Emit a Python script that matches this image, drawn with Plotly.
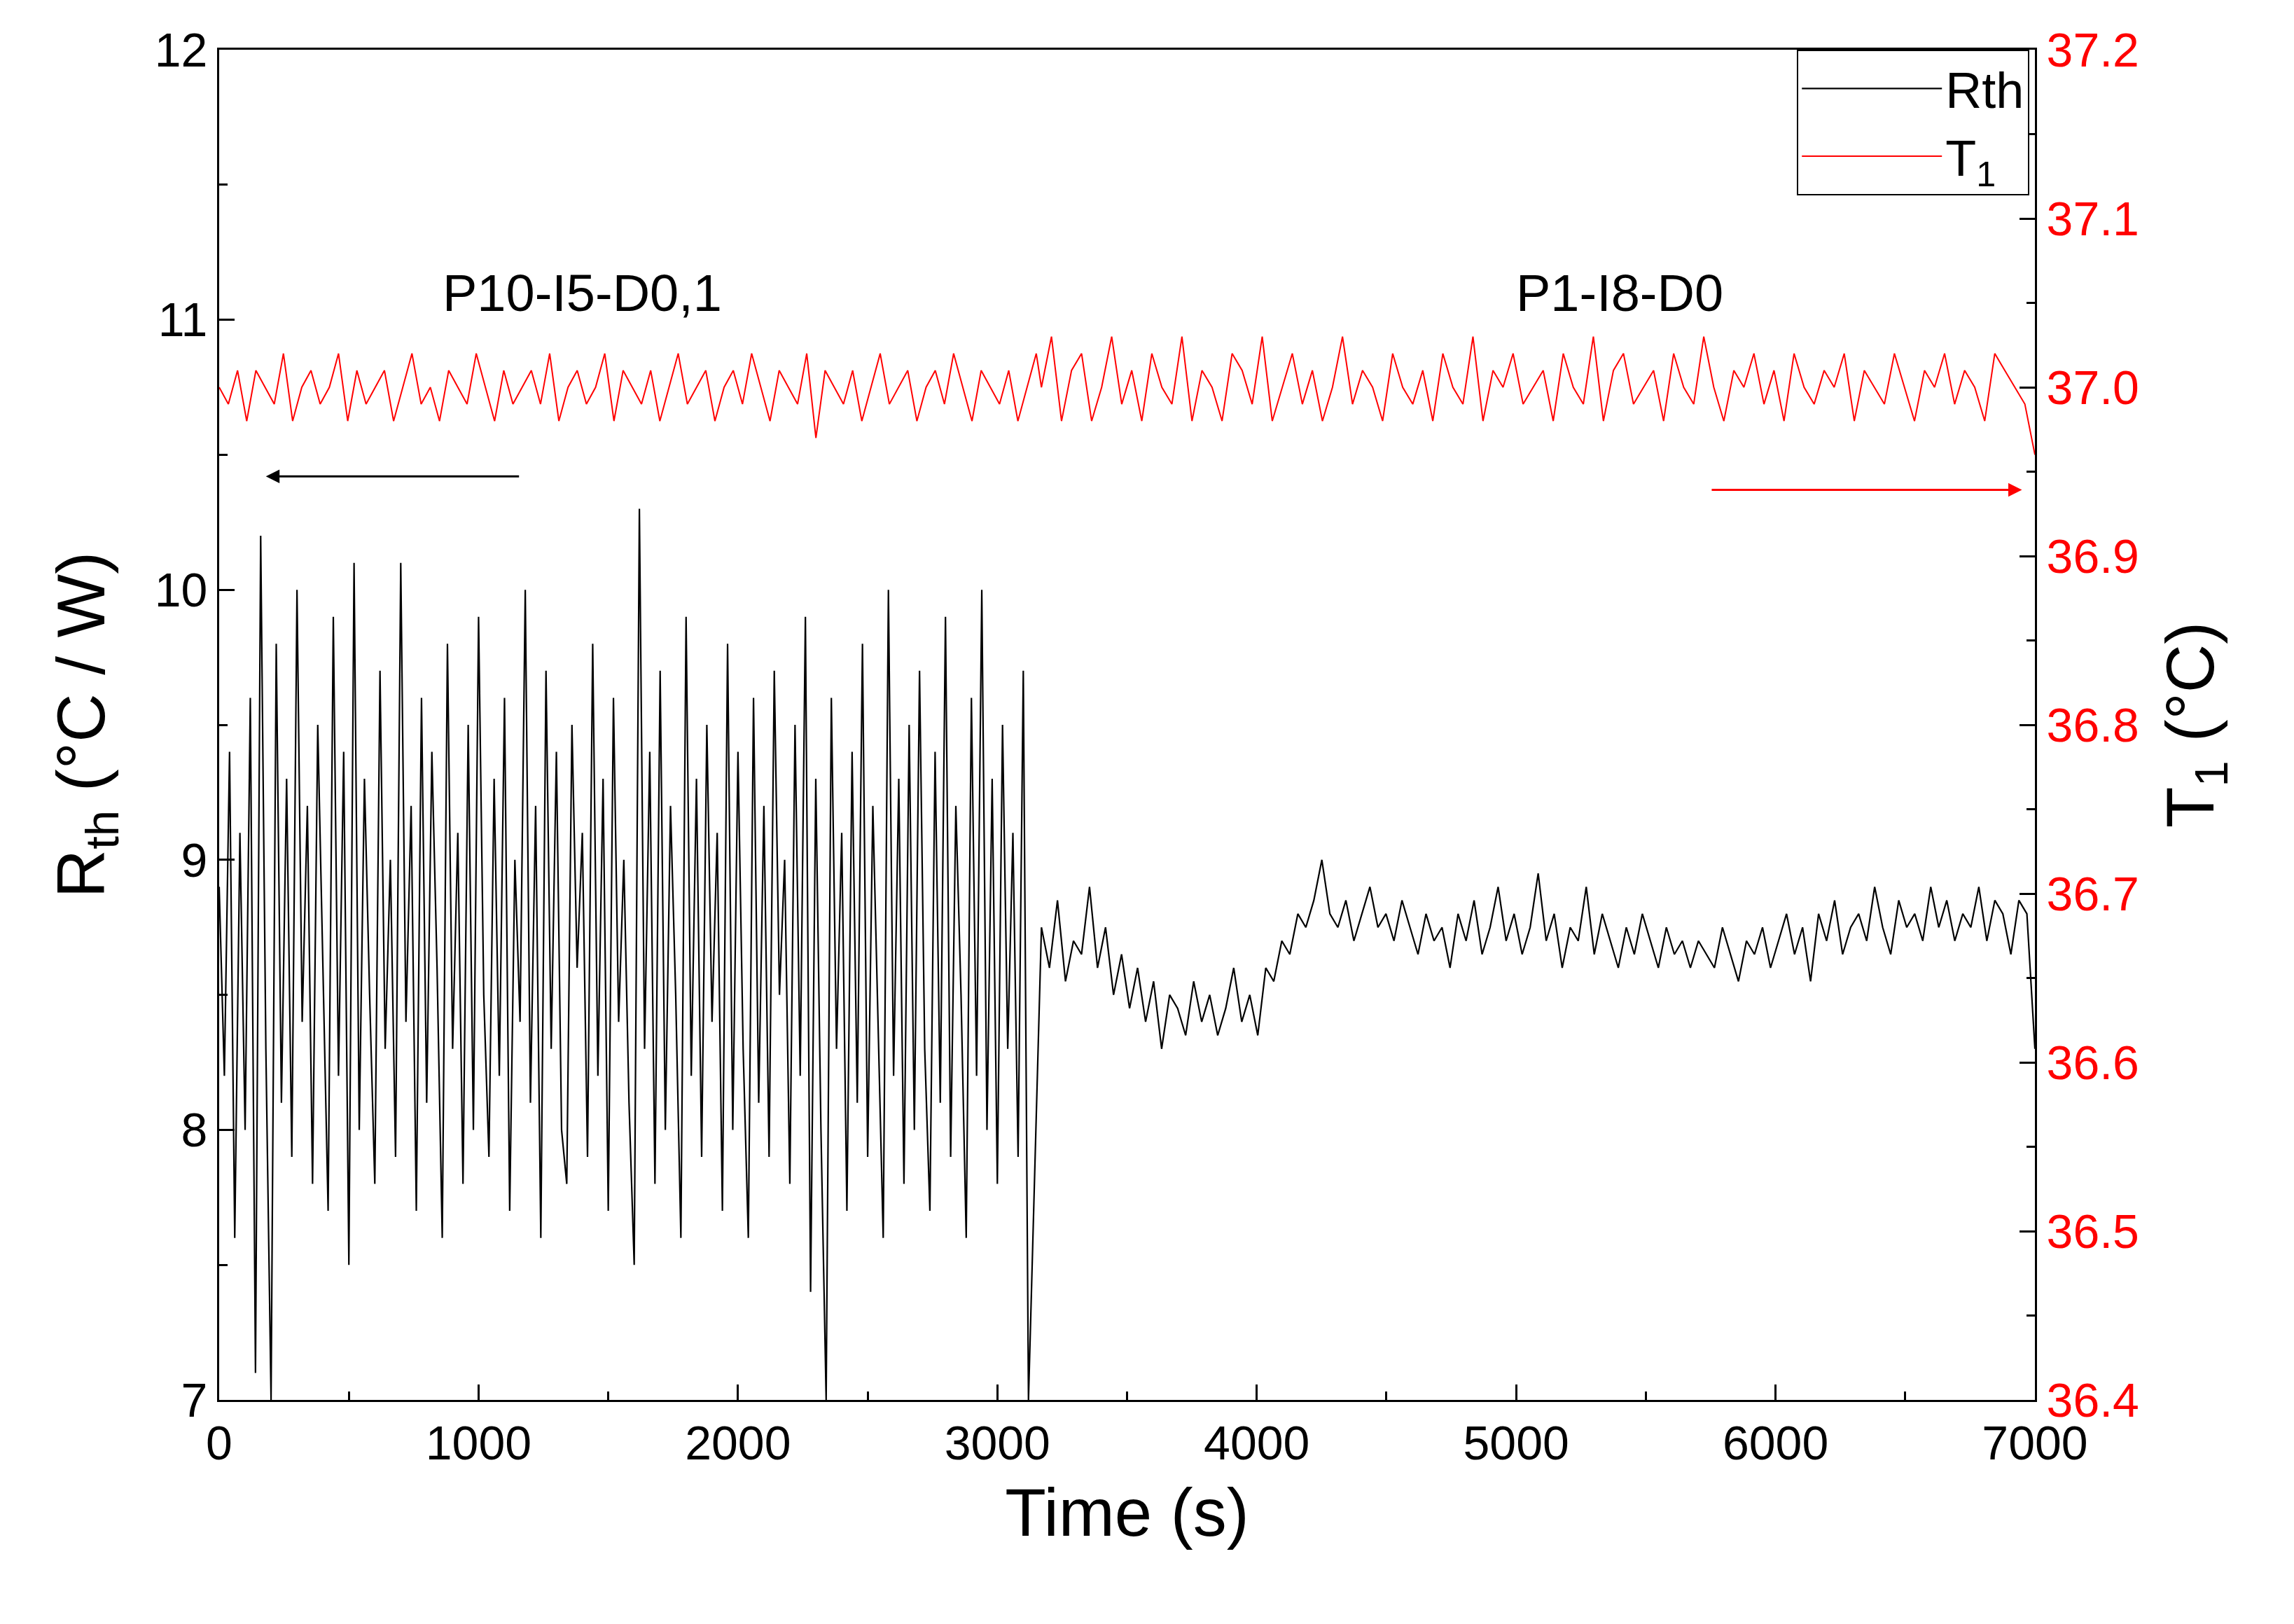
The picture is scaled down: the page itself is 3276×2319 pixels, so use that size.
import numpy as np
import plotly.graph_objects as go

# Rth, noisy regime (P10-I5-D0,1), sampled every 20 s from 0 s
rth_noisy = [8.9,8.2,9.4,7.6,9.1,8.0,9.6,7.1,10.2,8.3,7.0,9.8,8.1,9.3,7.9,10.0,8.4,9.2,7.8,9.5,8.6,7.7,9.9,8.2,9.4,7.5,10.1,8.0,9.3,8.5,
7.8,9.7,8.3,9.0,7.9,10.1,8.4,9.2,7.7,9.6,8.1,9.4,8.6,7.6,9.8,8.3,9.1,7.8,9.5,8.0,9.9,8.5,7.9,9.3,8.2,9.6,7.7,9.0,8.4,10.0,
8.1,9.2,7.6,9.7,8.3,9.4,8.0,7.8,9.5,8.6,9.1,7.9,9.8,8.2,9.3,7.7,9.6,8.4,9.0,8.1,7.5,10.3,8.3,9.4,7.8,9.7,8.0,9.2,8.5,7.6,
9.9,8.2,9.3,7.9,9.5,8.4,9.1,7.7,9.8,8.0,9.4,8.3,7.6,9.6,8.1,9.2,7.9,9.7,8.5,9.0,7.8,9.5,8.2,9.9,7.4,9.3,8.0,7.0,9.6,8.3,
9.1,7.7,9.4,8.1,9.8,7.9,9.2,8.4,7.6,10.0,8.2,9.3,7.8,9.5,8.0,9.7,8.3,7.7,9.4,8.1,9.9,7.9,9.2,8.5,7.6,9.6,8.2,10.0,8.0,9.3,
7.8,9.5,8.3,9.1,7.9,9.7,7.0]
step_noisy = 20

# Rth, smooth regime (P1-I8-D0), from 3170 s to 7000 s
rth_smooth = [8.75,8.6,8.85,8.55,8.7,8.65,8.9,8.6,8.75,8.5,8.65,8.45,8.6,8.4,8.55,8.3,8.5,8.45,8.35,8.55,8.4,8.5,8.35,8.45,8.6,8.4,8.5,8.35,
8.6,8.55,8.7,8.65,8.8,8.75,8.85,9.0,8.8,8.75,8.85,8.7,8.8,8.9,8.75,8.8,8.7,8.85,8.75,8.65,8.8,8.7,8.75,8.6,8.8,8.7,8.85,8.65,8.75,8.9,
8.7,8.8,8.65,8.75,8.95,8.7,8.8,8.6,8.75,8.7,8.9,8.65,8.8,8.7,8.6,8.75,8.65,8.8,8.7,8.6,8.75,8.65,8.7,8.6,8.7,8.65,8.6,8.75,8.65,8.55,
8.7,8.65,8.75,8.6,8.7,8.8,8.65,8.75,8.55,8.8,8.7,8.85,8.65,8.75,8.8,8.7,8.9,8.75,8.65,8.85,8.75,8.8,8.7,8.9,8.75,8.85,8.7,8.8,8.75,8.9,
8.7,8.85,8.8,8.65,8.85,8.8,8.3]
smooth_start, smooth_end = 3170, 7000

# T1, first regime (dense noise), 0..3150 s
t1_a = [37.00,36.99,37.01,36.98,37.01,37.00,36.99,37.02,36.98,37.00,37.01,36.99,37.00,37.02,36.98,37.01,36.99,37.00,37.01,36.98,
37.00,37.02,36.99,37.00,36.98,37.01,37.00,36.99,37.02,37.00,36.98,37.01,36.99,37.00,37.01,36.99,37.02,36.98,37.00,37.01,
36.99,37.00,37.02,36.98,37.01,37.00,36.99,37.01,36.98,37.00,37.02,36.99,37.00,37.01,36.98,37.00,37.01,36.99,37.02,37.00,
36.98,37.01,37.00,36.99,37.02,36.97,37.01,37.00,36.99,37.01,36.98,37.00,37.02,36.99,37.00,37.01,36.98,37.00,37.01,36.99,
37.02,37.00,36.98,37.01,37.00,36.99,37.01,36.98,37.00,37.02]
# T1, second regime, 3150..7000 s
t1_b = [37.00,37.03,36.98,37.01,37.02,36.98,37.00,37.03,36.99,37.01,36.98,37.02,37.00,36.99,37.03,36.98,37.01,37.00,36.98,37.02,
37.01,36.99,37.03,36.98,37.00,37.02,36.99,37.01,36.98,37.00,37.03,36.99,37.01,37.00,36.98,37.02,37.00,36.99,37.01,36.98,
37.02,37.00,36.99,37.03,36.98,37.01,37.00,37.02,36.99,37.00,37.01,36.98,37.02,37.00,36.99,37.03,36.98,37.01,37.02,36.99,
37.00,37.01,36.98,37.02,37.00,36.99,37.03,37.00,36.98,37.01,37.00,37.02,36.99,37.01,36.98,37.02,37.00,36.99,37.01,37.00,
37.02,36.98,37.01,37.00,36.99,37.02,37.00,36.98,37.01,37.00,37.02,36.99,37.01,37.00,36.98,37.02,37.01,37.00,36.99,36.96]
t1_split = 3150

x_noisy = np.arange(len(rth_noisy)) * step_noisy
x_smooth = np.linspace(smooth_start, smooth_end, len(rth_smooth))
x_t1 = np.concatenate([np.linspace(0, t1_split, len(t1_a)), np.linspace(t1_split + 20, 7000, len(t1_b))])
y_t1 = t1_a + t1_b

FONT = "Liberation Sans, Arial, sans-serif"
fig = go.Figure()
fig.add_trace(go.Scatter(x=np.concatenate([x_noisy, x_smooth]), y=rth_noisy + rth_smooth, mode="lines", name="Rth",
                         line=dict(color="black", width=2.2)))
fig.add_trace(go.Scatter(x=x_t1, y=y_t1, mode="lines", name="T<sub>1</sub>",
                         line=dict(color="red", width=2), yaxis="y2"))

axcommon = dict(showline=True, linecolor="black", linewidth=3, ticks="inside",
                ticklen=22, tickwidth=3, tickcolor="black", showgrid=False, zeroline=False,
                tickfont=dict(family=FONT, size=68))
fig.update_layout(
    width=3276, height=2319, plot_bgcolor="white", paper_bgcolor="white",
    margin=dict(l=305, r=378, t=63, b=328),
    font=dict(family=FONT, color="black"),
    xaxis=dict(range=[0, 7000], dtick=1000, mirror=True,
               minor=dict(ticks="inside", dtick=500, ticklen=12, tickwidth=3, tickcolor="black"),
               title=dict(text="Time (s)", font=dict(size=96), standoff=30), **axcommon),
    yaxis=dict(range=[7, 12], dtick=1,
               minor=dict(ticks="inside", dtick=0.5, ticklen=12, tickwidth=3, tickcolor="black"),
               title=dict(text="R<sub>th</sub> (°C / W)", font=dict(size=96), standoff=40), **axcommon),
    yaxis2=dict(range=[36.4, 37.2], dtick=0.1, overlaying="y", side="right",
                tickformat=".1f",
                minor=dict(ticks="inside", dtick=0.05, ticklen=12, tickwidth=3, tickcolor="black"),
                title=dict(text="T<sub>1</sub> (°C)", font=dict(size=96, color="black"), standoff=40),
                **{**axcommon, "tickfont": dict(family=FONT, size=68, color="red")}),
    legend=dict(x=0.997, y=1.0, xanchor="right", yanchor="top", bgcolor="white",
                bordercolor="black", borderwidth=2, font=dict(size=72), itemwidth=200,
                tracegroupgap=0),
    showlegend=True,
)
fig.add_annotation(x=1400, y=11.1, text="P10-I5-D0,1", showarrow=False, font=dict(size=74))
fig.add_annotation(x=5400, y=11.1, text="P1-I8-D0", showarrow=False, font=dict(size=74))
fig.add_annotation(x=180, y=10.42, ax=1160, ay=10.42, axref="x", ayref="y", xref="x", yref="y",
                   showarrow=True, arrowhead=2, arrowsize=1.3, arrowwidth=3, arrowcolor="black", text="")
fig.add_annotation(x=6950, y=10.37, ax=5750, ay=10.37, axref="x", ayref="y", xref="x", yref="y",
                   showarrow=True, arrowhead=2, arrowsize=1.3, arrowwidth=3, arrowcolor="red", text="")
fig.write_html("out.html")
